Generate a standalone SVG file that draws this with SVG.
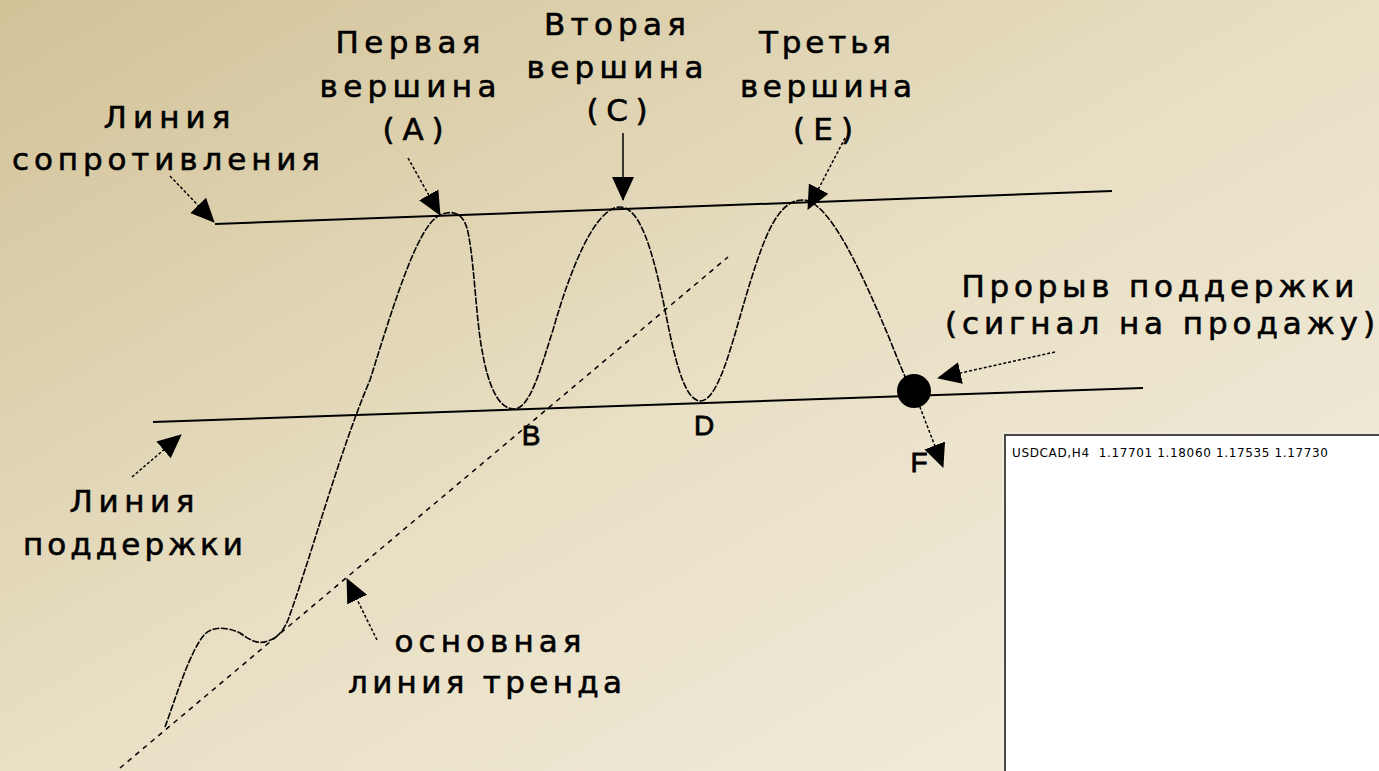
<svg xmlns="http://www.w3.org/2000/svg" width="1379" height="771" viewBox="0 0 1379 771">
<defs>
<linearGradient id="bg" x1="0" y1="0" x2="1" y2="1">
<stop offset="0" stop-color="#d2c298"/>
<stop offset="0.5" stop-color="#e8dfc4"/>
<stop offset="1" stop-color="#f4efe0"/>
</linearGradient>
<marker id="ah" viewBox="0 0 24 24" markerWidth="24" markerHeight="24" refX="23" refY="12" orient="auto" markerUnits="userSpaceOnUse">
<path d="M0,1 L24,12 L0,23 z" fill="#000"/>
</marker>
<style>
.lbl{font-family:"DejaVu Sans","Noto Sans",sans-serif;font-size:31px;fill:#000;stroke:#000;stroke-width:0.6;text-anchor:middle}
.pt{font-family:"Liberation Sans",Arial,sans-serif;font-size:28px;fill:#000;stroke:#000;stroke-width:0.8;text-anchor:middle}
.lvl{stroke:#000;stroke-width:2;fill:none}
.price{stroke:#000;stroke-width:1.6;fill:none;stroke-dasharray:7 1.5}
.trend{stroke:#000;stroke-width:1.5;fill:none;stroke-dasharray:5 5}
.ptr{stroke:#000;stroke-width:1.5;fill:none;stroke-dasharray:3 2;marker-end:url(#ah)}
.ptrs{stroke:#000;stroke-width:1.5;fill:none;marker-end:url(#ah)}
.info{font-family:"DejaVu Sans",Tahoma,sans-serif;font-size:12px;fill:#000;white-space:pre}
</style>
</defs>
<rect x="0" y="0" width="1379" height="771" fill="url(#bg)"/>

<g id="resistance-line"><line class="lvl" x1="215" y1="224" x2="1112" y2="191"/></g>
<g id="support-line"><line class="lvl" x1="153" y1="422" x2="1143" y2="388"/></g>
<g id="trend-line"><line class="trend" x1="120" y1="768" x2="728" y2="257"/></g>

<g id="price-curve">
<path class="price" d="M165,727 C175,700 190,650 205,634 C212,627 225,626 240,633 C250,640 258,645 268,641 C276,638 282,634 288,620 C310,560 340,450 370,380 C395,300 418,225 440,215 C452,210 462,212 467,228 C474,255 476,320 482,350 C488,385 498,408 513,409 C530,410 540,370 553,330 C570,270 595,207 620,207 C640,207 652,250 663,300 C672,345 682,400 700,401 C720,402 735,330 750,283 C765,235 778,200 803,200 C830,200 865,280 890,340 C900,365 908,385 913,392"/>
</g>

<g id="breakout-point"><circle cx="914" cy="391" r="17" fill="#000"/></g>

<g id="connectors">
<line class="ptr" x1="170" y1="176" x2="214" y2="222"/>
<line class="ptr" x1="408" y1="158" x2="440" y2="215"/>
<line class="ptrs" x1="623" y1="133" x2="623" y2="200"/>
<line class="ptr" x1="845" y1="138" x2="808" y2="209"/>
<line class="ptr" x1="1055" y1="352" x2="938" y2="378"/>
<line class="ptr" x1="918" y1="402" x2="943" y2="467"/>
<line class="ptr" x1="132" y1="477" x2="181" y2="435"/>
<line class="ptr" x1="377" y1="640" x2="347" y2="579"/>
</g>

<g id="label-resistance">
<text class="lbl" x="167" y="128" textLength="127" lengthAdjust="spacing">Линия</text>
<text class="lbl" x="166" y="170" textLength="308" lengthAdjust="spacing">сопротивления</text>
</g>
<g id="label-peak-a">
<text class="lbl" x="408" y="53" textLength="145" lengthAdjust="spacing">Первая</text>
<text class="lbl" x="408" y="97" textLength="177" lengthAdjust="spacing">вершина</text>
<text class="lbl" x="413" y="140" textLength="61" lengthAdjust="spacing">(A)</text>
</g>
<g id="label-peak-c">
<text class="lbl" x="615" y="35" textLength="142" lengthAdjust="spacing">Вторая</text>
<text class="lbl" x="615" y="78" textLength="177" lengthAdjust="spacing">вершина</text>
<text class="lbl" x="617" y="121" textLength="61" lengthAdjust="spacing">(C)</text>
</g>
<g id="label-peak-e">
<text class="lbl" x="825" y="53" textLength="132" lengthAdjust="spacing">Третья</text>
<text class="lbl" x="826" y="97" textLength="172" lengthAdjust="spacing">вершина</text>
<text class="lbl" x="823" y="140" textLength="60" lengthAdjust="spacing">(E)</text>
</g>
<g id="label-breakout">
<text class="lbl" x="1158" y="297" textLength="393" lengthAdjust="spacing">Прорыв поддержки</text>
<text class="lbl" x="1160" y="334" textLength="430" lengthAdjust="spacing">(сигнал на продажу)</text>
</g>
<g id="label-support">
<text class="lbl" x="132" y="512" textLength="125" lengthAdjust="spacing">Линия</text>
<text class="lbl" x="133" y="555" textLength="220" lengthAdjust="spacing">поддержки</text>
</g>
<g id="label-trend">
<text class="lbl" x="488" y="652" textLength="187" lengthAdjust="spacing">основная</text>
<text class="lbl" x="485" y="693" textLength="274" lengthAdjust="spacing">линия тренда</text>
</g>
<g id="point-b"><text class="pt" x="531" y="445">B</text></g>
<g id="point-d"><text class="pt" x="704" y="435">D</text></g>
<g id="point-f"><text class="pt" x="919" y="472">F</text></g>

<g id="chart-window">
<rect x="1003" y="433" width="384" height="349" fill="none" stroke="#f4efe0" stroke-width="1"/>
<rect x="1005" y="435" width="380" height="345" fill="#fff" stroke="#4a4a4a" stroke-width="2"/>
<text class="info" x="1012" y="457" textLength="316" lengthAdjust="spacing">USDCAD,H4  1.17701 1.18060 1.17535 1.17730</text>
</g>
</svg>
